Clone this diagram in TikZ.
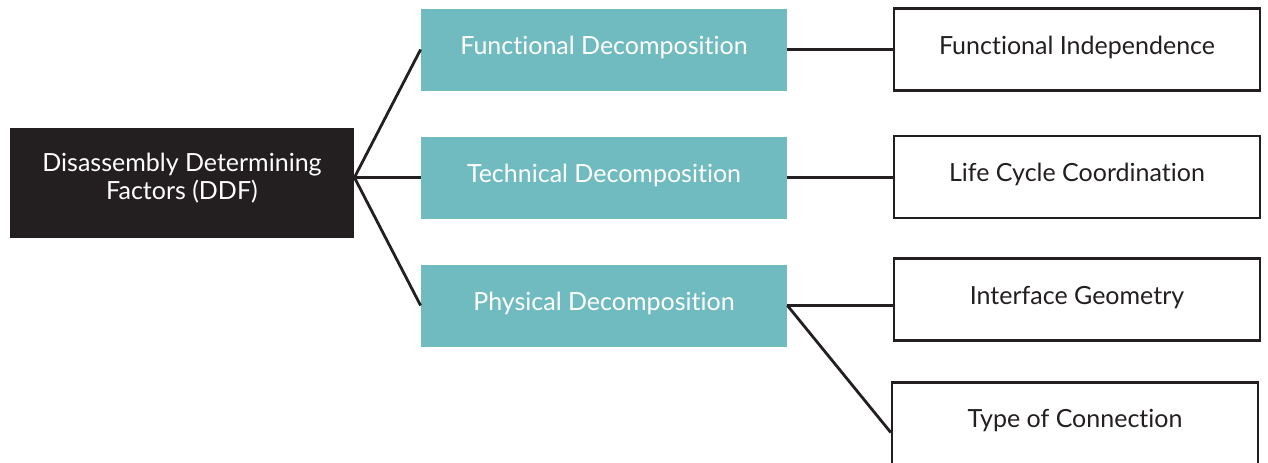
\documentclass[tikz,border=0pt]{standalone}
\usepackage{fontspec}
\setmainfont{Lato}[Ligatures=NoCommon]
\definecolor{ddfblack}{RGB}{35,31,32}
\definecolor{decteal}{RGB}{112,187,191}
\tikzset{
  rootbox/.style={fill=ddfblack,text=white,minimum width=172pt,minimum height=55pt,align=center,inner sep=0pt},
  decbox/.style={fill=decteal,text=white,minimum width=183pt,minimum height=41pt,inner sep=0pt},
  factorbox/.style={draw=ddfblack,line width=1.2pt,fill=white,text=ddfblack,minimum width=183pt,minimum height=41pt,inner sep=0pt},
  link/.style={draw=ddfblack,line width=1.4pt}
}
\begin{document}
\begin{tikzpicture}[x=0.5pt,y=-0.5pt,font=\fontsize{12.5}{14}\selectfont]
\useasboundingbox (0,0) rectangle (1268,462);
\node[rootbox] (ddf) at (182,183) {Disassembly Determining\\Factors (DDF)\rule[-7pt]{0pt}{0pt}};
\node[decbox] (fd) at (604,49.5) {\raisebox{4.5pt}{Functional Decomposition}};
\node[decbox] (td) at (604,177.5) {\raisebox{4.5pt}{Technical Decomposition}};
\node[decbox] (pd) at (604,305.5) {\raisebox{4.5pt}{Physical Decomposition}};
\node[factorbox] (fi) at (1077,49.5) {\raisebox{4.5pt}{Functional Independence}};
\node[factorbox] (lc) at (1077,177) {\raisebox{4.5pt}{Life Cycle Coordination}};
\node[factorbox] (ig) at (1077,299.5) {\raisebox{4.5pt}{Interface Geometry}};
\node[factorbox] (tc) at (1075,423.5) {\raisebox{5.5pt}{Type of Connection}};
\coordinate (hub) at (ddf.east |- td.west);
\draw[link] (hub) -- (fd.west);
\draw[link] (hub) -- (td.west);
\draw[link] (hub) -- (pd.west);
\draw[link] (fd.east) -- (fi.west |- fd.east);
\draw[link] (td.east) -- (lc.west |- td.east);
\draw[link] (pd.east) -- (ig.west |- pd.east);
\draw[link] (pd.east) -- ([yshift=-4.5pt]tc.west);
\end{tikzpicture}
\end{document}
